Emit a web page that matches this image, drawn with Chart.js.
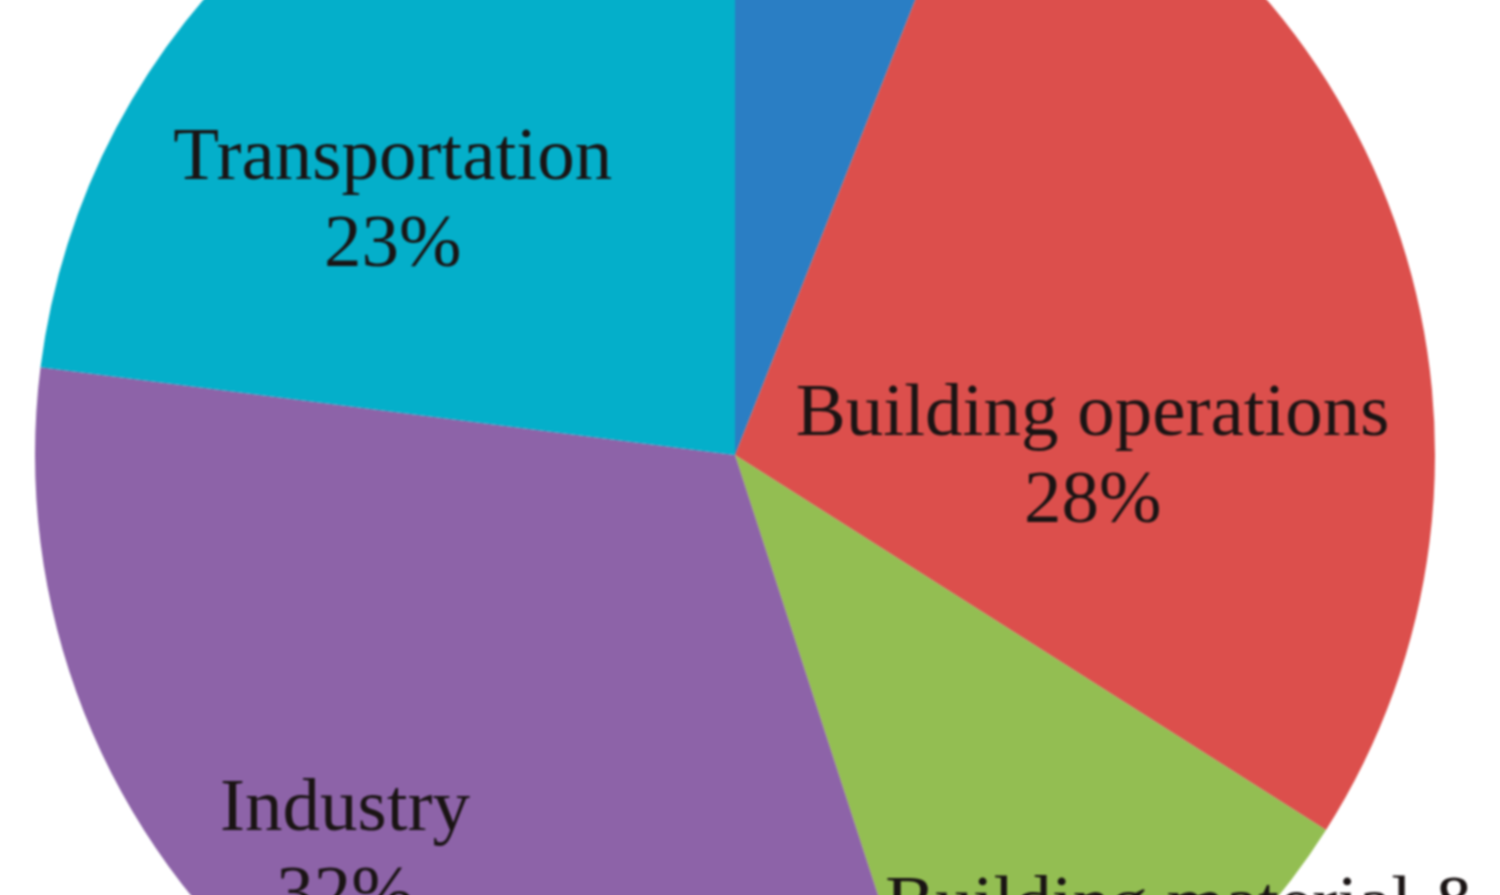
<!DOCTYPE html>
<html>
<head>
<meta charset="utf-8">
<script src="https://cdn.jsdelivr.net/npm/chart.js@4.4.1/dist/chart.umd.min.js"></script>
<style>
  html, body {
    margin: 0;
    padding: 0;
    background: #ffffff;
    width: 1500px;
    height: 895px;
    overflow: hidden;
  }
  /* the pie is bigger than the window, only part of it is shown */
  #wrap {
    position: absolute;
    left: 0;
    top: -245px;
    width: 1470px;
    height: 1400px;
    filter: blur(0.8px);
  }
</style>
</head>
<body>
<div id="wrap"><canvas id="pieChart" width="1470" height="1400"></canvas></div>
<script>
// Data (clockwise from 12 o'clock)
var categories = ['Other', 'Building operations', 'Building material & construction', 'Industry', 'Transportation'];
var shares = [6, 28, 11, 32, 23];
var sliceColors = ['#2a7ec4', '#dc4f4c', '#93be52', '#8d63a8', '#04afca'];

// Label lines shown on each slice (the small slice has no label in view)
var labelLines = [
    [],
    ['Building operations', '28%'],
    ['Building material &', 'construction', '11%'],
    ['Industry', '32%'],
    ['Transportation', '23%']
];
// Where each label block sits, relative to the centre, in units of the radius
var labelSpots = [
    [0, 0],
    [0.511, 0.006],
    [0.646, 0.77],
    [-0.557, 0.569],
    [-0.489, -0.36]
];

// Plugin that writes the labels on the slices
var sliceLabels = {
    id: 'sliceLabels',
    afterDatasetsDraw: function (chart) {
        var ctx = chart.ctx;
        var arc = chart.getDatasetMeta(0).data[0];
        var cx = arc.x, cy = arc.y, r = arc.outerRadius;
        var lineH = 87;
        ctx.save();
        ctx.font = '75px "Liberation Serif", "Times New Roman", serif';
        ctx.fillStyle = '#1a1414';
        ctx.textAlign = 'center';
        ctx.textBaseline = 'middle';
        labelLines.forEach(function (lines, i) {
            var x = cx + labelSpots[i][0] * r;
            var y0 = cy + labelSpots[i][1] * r - (lines.length - 1) * lineH / 2;
            lines.forEach(function (txt, j) {
                ctx.fillText(txt, x, y0 + j * lineH);
            });
        });
        ctx.restore();
    }
};

var ctx = document.getElementById('pieChart').getContext('2d');
var myChart = new Chart(ctx, {
    type: 'pie',
    data: {
        labels: categories,
        datasets: [{
            data: shares,
            backgroundColor: sliceColors,
            borderWidth: 0,
            hoverOffset: 0
        }]
    },
    options: {
        responsive: false,
        animation: false,
        layout: { padding: 0 },
        plugins: {
            legend: { display: false },
            tooltip: { enabled: false }
        }
    },
    plugins: [sliceLabels]
});
</script>
</body>
</html>
